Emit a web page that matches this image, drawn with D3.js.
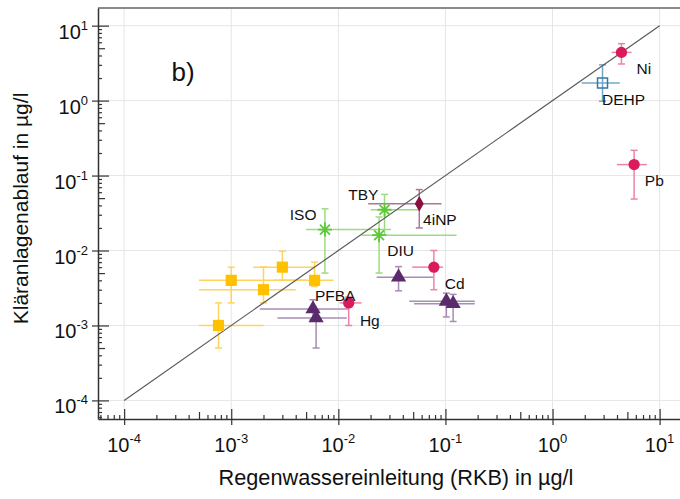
<!DOCTYPE html>
<html>
<head>
<meta charset="utf-8">
<script src="https://cdn.jsdelivr.net/npm/d3@7"></script>
<style>
  body { margin: 0; background: #fff; }
  svg { display: block; }
  text { font-family: "Liberation Sans", Arial, sans-serif; fill: #111; }
</style>
</head>
<body>
<svg id="chart" width="680" height="499"></svg>
<script>
// ---- data (µg/l): rain-water inflow (x) vs. treatment plant effluent (y) ----
const pointKind = ["square", "square", "square", "square", "square",
                   "asterisk", "asterisk", "asterisk",
                   "diamond",
                   "triangle", "triangle", "triangle", "triangle", "triangle",
                   "circle", "circle", "circle", "circle",
                   "openSquare"];
const xMid  = [0.001, 0.002, 0.003, 0.006, 0.00076,
               0.0075, 0.027, 0.024,
               0.057,
               0.0365, 0.102, 0.118, 0.0058, 0.0062,
               4.4, 5.78, 0.078, 0.0125,
               2.93];
const yMid  = [0.004, 0.003, 0.006, 0.004, 0.001,
               0.019, 0.035, 0.016,
               0.042,
               0.0044, 0.0021, 0.00195, 0.00166, 0.00126,
               4.4, 0.14, 0.006, 0.002,
               1.72];
const xLow  = [0.0005, 0.0005, 0.0016, 0.0025, 0.0005,
               0.005, 0.02, 0.0165,
               0.019,
               0.0228, 0.046, 0.051, 0.00185, 0.0027,
               3.56, 4.0, 0.049, 0.0103,
               1.87];
const xHigh = [0.005, 0.004, 0.006, 0.009, 0.002,
               0.031, 0.058, 0.127,
               0.092,
               0.077, 0.188, 0.188, 0.0123, 0.012,
               5.47, 7.6, 0.095, 0.0165,
               4.25];
const yLow  = [0.002, 0.002, 0.004, 0.0033, 0.0005,
               0.005, 0.016, 0.005,
               0.02,
               0.0029, 0.0013, 0.00113, 0.0012, 0.0005,
               3.08, 0.0486, 0.003, 0.001,
               0.98];
const yHigh = [0.006, 0.006, 0.0098, 0.007, 0.002,
               0.036, 0.056, 0.028,
               0.065,
               0.0061, 0.0027, 0.0026, 0.0022, 0.0016,
               5.75, 0.217, 0.01, 0.0024,
               3.0];

// substance labels, anchored (left edge, baseline) at data coordinates
const labelText = ["Ni", "DEHP", "Pb", "TBY", "ISO", "4iNP", "DIU", "Cd", "PFBA", "Hg"];
const labelX    = [6.08, 2.90, 7.28, 0.01236, 0.00352, 0.0619, 0.0286, 0.0986, 0.00604, 0.0159];
const labelY    = [2.27, 0.883, 0.0718, 0.0467, 0.0252, 0.0221, 0.00835, 0.00307, 0.00209, 0.000993];

const panelLabel = "b)";
const panelX = 0.000277, panelY = 1.81;

// 1:1 reference line
const refLine = [1e-4, 10];

// axis decades and titles
const exponents = [-4, -3, -2, -1, 0, 1];
const xTitle = "Regenwassereinleitung (RKB) in µg/l";
const yTitle = "Kläranlagenablauf in µg/l";

// ---- styles per marker kind ----
const style = {
  square:     { fill: "#FFC000", stroke: "none",    bar: "#FFD45A" },
  asterisk:   { fill: "none",    stroke: "#5EC83A", bar: "#9CDC80" },
  diamond:    { fill: "#8A0F3E", stroke: "none",    bar: "#AE7596" },
  triangle:   { fill: "#5A2A6C", stroke: "none",    bar: "#A88CB6" },
  circle:     { fill: "#D91A5B", stroke: "none",    bar: "#EC84A6" },
  openSquare: { fill: "none",    stroke: "#2E7AA6", bar: "#6EA8C9" }
};

// ---- layout ----
const plot = { left: 98, right: 680, top: 8, bottom: 419 };
const x = d3.scaleLog().domain([5.7e-5, 15.5]).range([plot.left, plot.right]);
const y = d3.scaleLog().domain([5.65e-5, 17.2]).range([plot.bottom, plot.top]);

const svg = d3.select("#chart");

const majors = exponents.map(e => Math.pow(10, e));
const minorsX = [], minorsY = [];
for (let e = -5; e <= 1; e++) {
  for (let m = 2; m <= 9; m++) {
    const v = m * Math.pow(10, e);
    if (v > x.domain()[0] && v < x.domain()[1]) minorsX.push(v);
    if (v > y.domain()[0] && v < y.domain()[1]) minorsY.push(v);
  }
}
const isFive = d => Math.round(d / Math.pow(10, Math.floor(Math.log10(d) + 1e-9))) === 5;

// grid
const grid = svg.append("g").attr("stroke", "#e6e6e6").attr("stroke-width", 1);
grid.selectAll(".gx").data(majors).join("line")
  .attr("x1", d => x(d)).attr("x2", d => x(d))
  .attr("y1", plot.top).attr("y2", plot.bottom);
grid.selectAll(".gy").data(majors).join("line")
  .attr("x1", plot.left).attr("x2", plot.right)
  .attr("y1", d => y(d)).attr("y2", d => y(d));

// top border of the frame
svg.append("line")
  .attr("x1", plot.left).attr("x2", plot.right)
  .attr("y1", plot.top).attr("y2", plot.top)
  .attr("stroke", "#8a8a8a").attr("stroke-width", 2);

// x axis
const xAxisG = svg.append("g").attr("transform", `translate(0,${plot.bottom})`);
xAxisG.call(d3.axisBottom(x).tickValues(majors).tickSizeInner(6).tickSizeOuter(0).tickFormat(() => ""));
xAxisG.selectAll(".tick line").attr("y1", -10).attr("y2", 6);
const xMinorG = svg.append("g").attr("transform", `translate(0,${plot.bottom})`);
xMinorG.call(d3.axisBottom(x).tickValues(minorsX).tickSizeInner(0).tickSizeOuter(0).tickFormat(() => ""));
xMinorG.select(".domain").remove();
xMinorG.selectAll(".tick line").attr("y1", 0).attr("y2", d => isFive(d) ? -7 : -4);

// y axis
const yAxisG = svg.append("g").attr("transform", `translate(${plot.left},0)`);
yAxisG.call(d3.axisLeft(y).tickValues(majors).tickSizeInner(6).tickSizeOuter(0).tickFormat(() => ""));
yAxisG.selectAll(".tick line").attr("x1", 11).attr("x2", -6);
const yMinorG = svg.append("g").attr("transform", `translate(${plot.left},0)`);
yMinorG.call(d3.axisLeft(y).tickValues(minorsY).tickSizeInner(0).tickSizeOuter(0).tickFormat(() => ""));
yMinorG.select(".domain").remove();
yMinorG.selectAll(".tick line").attr("x1", 0).attr("x2", d => isFive(d) ? 7 : 4);

[xAxisG, yAxisG, xMinorG, yMinorG].forEach(g => {
  g.selectAll("line").attr("stroke", "#333").attr("stroke-width", 1.2);
  g.selectAll(".domain").attr("stroke", "#333").attr("stroke-width", 1.5);
});

// tick labels with superscript exponents
function powerLabel(sel) {
  sel.append("tspan").text("10");
  sel.append("tspan").attr("dy", -9).attr("font-size", 13).text(d => String(Math.round(Math.log10(d))));
}
svg.append("g").selectAll("text").data(majors).join("text")
  .attr("x", d => x(d)).attr("y", plot.bottom + 33)
  .attr("text-anchor", "middle").attr("font-size", 20)
  .call(powerLabel);
svg.append("g").selectAll("text").data(majors).join("text")
  .attr("x", plot.left - 10).attr("y", d => y(d) + 13)
  .attr("text-anchor", "end").attr("font-size", 20)
  .call(powerLabel);

// axis titles
svg.append("text")
  .attr("x", 396).attr("y", 485)
  .attr("text-anchor", "middle").attr("font-size", 21.7)
  .text(xTitle);
svg.append("text")
  .attr("transform", `translate(28,${(plot.top + plot.bottom) / 2 - 5}) rotate(-90)`)
  .attr("text-anchor", "middle").attr("font-size", 21)
  .text(yTitle);

// points
const idx = d3.range(xMid.length);

// error bars
const bars = svg.append("g").attr("stroke-width", 1.5).attr("fill", "none");
bars.selectAll(".h").data(idx).join("line")
  .attr("stroke", i => style[pointKind[i]].bar)
  .attr("x1", i => x(xLow[i])).attr("x2", i => x(xHigh[i]))
  .attr("y1", i => y(yMid[i])).attr("y2", i => y(yMid[i]));
bars.selectAll(".v").data(idx).join("line")
  .attr("stroke", i => style[pointKind[i]].bar)
  .attr("x1", i => x(xMid[i])).attr("x2", i => x(xMid[i]))
  .attr("y1", i => y(yLow[i])).attr("y2", i => y(yHigh[i]));
const capHalf = 3.5;
bars.selectAll(".capLo").data(idx).join("line")
  .attr("stroke", i => style[pointKind[i]].bar)
  .attr("x1", i => x(xMid[i]) - capHalf).attr("x2", i => x(xMid[i]) + capHalf)
  .attr("y1", i => y(yLow[i])).attr("y2", i => y(yLow[i]));
bars.selectAll(".capHi").data(idx).join("line")
  .attr("stroke", i => style[pointKind[i]].bar)
  .attr("x1", i => x(xMid[i]) - capHalf).attr("x2", i => x(xMid[i]) + capHalf)
  .attr("y1", i => y(yHigh[i])).attr("y2", i => y(yHigh[i]));

// 1:1 line
svg.append("line")
  .attr("x1", x(refLine[0])).attr("y1", y(refLine[0]))
  .attr("x2", x(refLine[1])).attr("y2", y(refLine[1]))
  .attr("stroke", "#5a5a5a").attr("stroke-width", 1.2);

// markers
const asteriskPath = r => {
  const d = r * Math.SQRT1_2;
  return `M0,${-r}L0,${r}M${-d},${-d}L${d},${d}M${-d},${d}L${d},${-d}M${-r},0L${r},0`;
};
const symbolFor = {
  square: d3.symbol(d3.symbolSquare, 125)(),
  diamond: d3.symbol(d3.symbolDiamond, 70)(),
  triangle: d3.symbol(d3.symbolTriangle, 100)(),
  circle: d3.symbol(d3.symbolCircle, 100)(),
  openSquare: d3.symbol(d3.symbolSquare, 100)(),
  asterisk: asteriskPath(7)
};
svg.append("g").selectAll("path").data(idx).join("path")
  .attr("transform", i => `translate(${x(xMid[i])},${y(yMid[i])})`)
  .attr("d", i => symbolFor[pointKind[i]])
  .attr("fill", i => style[pointKind[i]].fill)
  .attr("stroke", i => style[pointKind[i]].stroke)
  .attr("stroke-width", i => pointKind[i] === "asterisk" ? 1.8 : 1.5);

// substance labels
svg.append("g").selectAll("text").data(labelText).join("text")
  .attr("x", (d, i) => x(labelX[i])).attr("y", (d, i) => y(labelY[i]))
  .attr("font-size", 15.5)
  .text(d => d);

svg.append("text")
  .attr("x", x(panelX)).attr("y", y(panelY))
  .attr("font-size", 26)
  .text(panelLabel);
</script>
</body>
</html>
